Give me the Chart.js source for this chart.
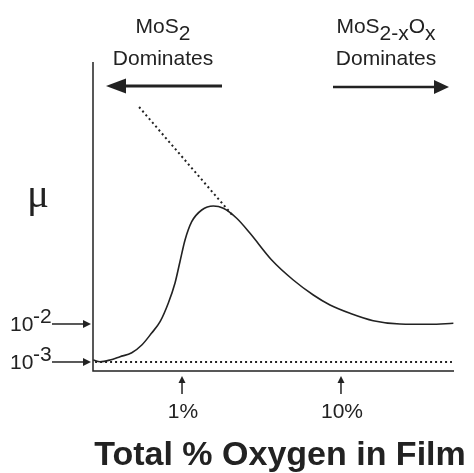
<!DOCTYPE html>
<html>
<head>
<meta charset="utf-8">
<script src="https://cdn.jsdelivr.net/npm/chart.js@4.4.1/dist/chart.umd.min.js"></script>
<style>
  body { margin: 0; background: #fff; }
  canvas { display: block; }
</style>
</head>
<body>
<canvas id="chart" width="474" height="473"></canvas>
<script>
// x = log10(total % oxygen), y = log10(friction coefficient mu)
const logOxygen = [-0.558, -0.516, -0.453, -0.390, -0.316, -0.253, -0.191, -0.138, -0.086, -0.044,
  -0.013, 0.019, 0.061, 0.124, 0.197, 0.260, 0.344, 0.428, 0.564, 0.700, 0.826, 0.931, 1.057,
  1.203, 1.371, 1.560, 1.707];
const logMu = [-2.947, -2.992, -2.947, -2.861, -2.755, -2.553, -2.237, -1.939, -1.447, -0.921,
  -0.361, 0.211, 0.692, 1.0, 1.105, 1.045, 0.782, 0.387, -0.316, -0.842, -1.237, -1.5, -1.718,
  -1.913, -2.0, -2.008, -1.982];

// dotted guide lines
const slopeX = [-0.270, 0.316];
const slopeY = [3.711, 0.868];
const floorX = [-0.547, 1.698];
const floorY = [-3, -3];

const xTickValues = [0, 1];
const xTickLabels = ['1%', '10%'];
const yTickValues = [-2, -3];
const yTickExps = ['-2', '-3'];

const ink = '#222';
const sans = '"Liberation Sans", Arial, sans-serif';

function pts(xs, ys) {
  return xs.map((x, i) => ({ x: x, y: ys[i] }));
}

function drawRuns(ctx, runs, cx, base) {
  let w = 0;
  runs.forEach(r => { w += ctx.measureText(r.t).width; });
  let x = cx - w / 2;
  ctx.textAlign = 'left';
  runs.forEach(r => {
    ctx.fillText(r.t, x, base + r.dy);
    x += ctx.measureText(r.t).width;
  });
}

function arrowHead(ctx, tx, ty, dx, dy, len, half) {
  // tip at (tx,ty), pointing along (dx,dy)
  const bx = tx - dx * len, by = ty - dy * len;
  ctx.beginPath();
  ctx.moveTo(tx, ty);
  ctx.lineTo(bx - dy * half, by + dx * half);
  ctx.lineTo(bx + dy * half, by - dx * half);
  ctx.closePath();
  ctx.fill();
}

const decorations = {
  id: 'decorations',
  afterDraw(chart) {
    const ctx = chart.ctx;
    const a = chart.chartArea;
    const xs = chart.scales.x, ys = chart.scales.y;
    ctx.save();
    ctx.strokeStyle = ink;
    ctx.fillStyle = ink;

    // axes
    ctx.lineWidth = 1.5;
    ctx.beginPath();
    ctx.moveTo(a.left, a.top);
    ctx.lineTo(a.left, a.bottom);
    ctx.lineTo(a.right, a.bottom);
    ctx.stroke();

    // y labels with arrows
    yTickValues.forEach((v, i) => {
      const py = ys.getPixelForValue(v);
      ctx.lineWidth = 1.5;
      ctx.beginPath();
      ctx.moveTo(52, py);
      ctx.lineTo(84, py);
      ctx.stroke();
      arrowHead(ctx, a.left - 2, py, 1, 0, 8, 4);
      ctx.font = '21px ' + sans;
      ctx.textAlign = 'left';
      ctx.fillText('10', 10, py + 7);
      ctx.fillText(yTickExps[i], 33, py - 1);
    });

    // x labels with up arrows
    xTickValues.forEach((v, i) => {
      const px = xs.getPixelForValue(v);
      ctx.lineWidth = 1.5;
      ctx.beginPath();
      ctx.moveTo(px, 394);
      ctx.lineTo(px, 382);
      ctx.stroke();
      arrowHead(ctx, px, 376, 0, -1, 7, 3.5);
      ctx.font = '21px ' + sans;
      ctx.textAlign = 'center';
      ctx.fillText(xTickLabels[i], px + 1, 418);
    });

    // top arrows
    ctx.lineWidth = 3;
    ctx.beginPath();
    ctx.moveTo(124, 86);
    ctx.lineTo(222, 86);
    ctx.stroke();
    arrowHead(ctx, 106, 86, -1, 0, 20, 7.5);
    ctx.lineWidth = 2.5;
    ctx.beginPath();
    ctx.moveTo(333, 87);
    ctx.lineTo(436, 87);
    ctx.stroke();
    arrowHead(ctx, 449, 87, 1, 0, 15, 7);

    // top labels
    ctx.font = '21px ' + sans;
    drawRuns(ctx, [{ t: 'MoS', dy: 0 }, { t: '2', dy: 7 }], 163, 33);
    drawRuns(ctx, [{ t: 'MoS', dy: 0 }, { t: '2-x', dy: 7 }, { t: 'O', dy: 0 }, { t: 'x', dy: 7 }], 386, 33);
    ctx.textAlign = 'center';
    ctx.fillText('Dominates', 163, 65);
    ctx.fillText('Dominates', 386, 65);

    // mu
    ctx.font = '41px "Liberation Serif", "Times New Roman", serif';
    ctx.textAlign = 'left';
    ctx.fillText('\u03bc', 27, 207);

    // axis title
    ctx.font = 'bold 34px ' + sans;
    ctx.textAlign = 'center';
    ctx.fillText('Total % Oxygen in Film', 280, 465);

    ctx.restore();
  }
};

new Chart(document.getElementById('chart'), {
  type: 'line',
  data: {
    datasets: [{
      data: pts(logOxygen, logMu),
      borderColor: ink,
      borderWidth: 1.6,
      pointRadius: 0,
      cubicInterpolationMode: 'monotone'
    }, {
      data: pts(slopeX, slopeY),
      borderColor: ink,
      borderWidth: 2,
      borderDash: [2, 3],
      pointRadius: 0
    }, {
      data: pts(floorX, floorY),
      borderColor: ink,
      borderWidth: 2,
      borderDash: [2, 3],
      pointRadius: 0
    }]
  },
  options: {
    responsive: false,
    animation: false,
    layout: { padding: { left: 93, top: 62, right: 20, bottom: 102 } },
    plugins: { legend: { display: false }, tooltip: { enabled: false } },
    scales: {
      x: { type: 'linear', min: -0.56, max: 1.711, display: false },
      y: { type: 'linear', min: -3.237, max: 4.895, display: false }
    }
  },
  plugins: [decorations]
});
</script>
</body>
</html>
